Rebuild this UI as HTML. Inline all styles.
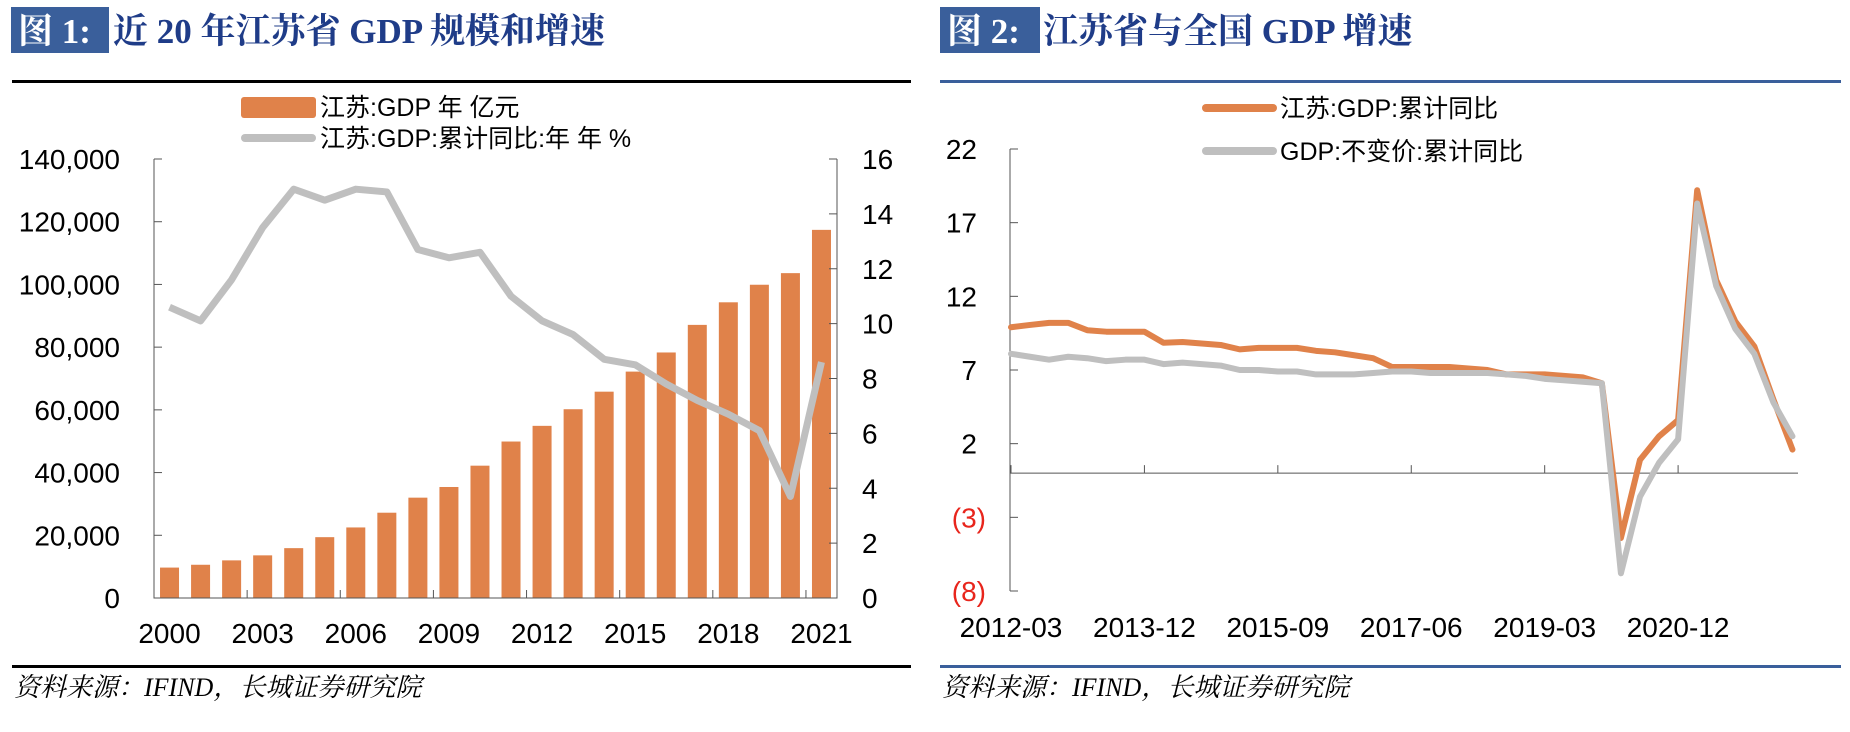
<!DOCTYPE html>
<html><head><meta charset="utf-8">
<style>
html,body{margin:0;padding:0;background:#fff;}
svg{display:block;}
.t{font-family:"Liberation Serif","Noto Serif CJK SC",serif;font-weight:bold;}
.s{font-family:"Liberation Sans","Noto Sans CJK SC",sans-serif;}
.f{font-family:"Liberation Serif","Noto Serif CJK SC",serif;font-style:italic;}
</style></head>
<body>
<svg id="svg" width="1850" height="732" viewBox="0 0 1850 732" xmlns="http://www.w3.org/2000/svg">
  <g>
    <rect x="11" y="7" width="98" height="46" fill="#3a5f9b"/>
    <text x="18" y="43" class="t" font-size="35" fill="#fff">图 1:</text>
    <text x="113" y="43" class="t" font-size="35" fill="#1f3c88">近 20 年江苏省 GDP 规模和增速</text>
    <rect x="12" y="80" width="899" height="3" fill="#000"/>
  </g>
  <g>
    <rect x="940" y="7" width="100" height="46" fill="#3a5f9b"/>
    <text x="947" y="43" class="t" font-size="35" fill="#fff">图 2:</text>
    <text x="1043" y="43" class="t" font-size="35" fill="#1f3c88">江苏省与全国 GDP 增速</text>
    <rect x="940" y="80" width="901" height="3" fill="#3a5f9b"/>
  </g>
  <g>
    <rect x="241" y="97" width="75" height="21" rx="3" fill="#e0824a"/>
    <text x="320" y="116" class="s" font-size="25" fill="#000">江苏:GDP 年 亿元</text>
    <line x1="245" y1="138" x2="312" y2="138" stroke="#bfbfbf" stroke-width="8" stroke-linecap="round"/>
    <text x="320" y="147" class="s" font-size="25" fill="#000">江苏:GDP:累计同比:年 年 %</text>
  </g>
  <g>
    <line x1="1206" y1="108" x2="1273" y2="108" stroke="#e0824a" stroke-width="8" stroke-linecap="round"/>
    <text x="1280" y="117" class="s" font-size="25" fill="#000">江苏:GDP:累计同比</text>
    <line x1="1206" y1="151" x2="1273" y2="151" stroke="#bfbfbf" stroke-width="8" stroke-linecap="round"/>
    <text x="1280" y="160" class="s" font-size="25" fill="#000">GDP:不变价:累计同比</text>
  </g>
  <g id="c1"></g>
  <g id="c2"></g>
  <g>
    <rect x="12" y="665" width="899" height="3" fill="#000"/>
    <text x="14" y="696" class="f" font-size="26" fill="#000">资料来源：IFIND，长城证券研究院</text>
    <rect x="940" y="665" width="901" height="3" fill="#3a5f9b"/>
    <text x="942" y="696" class="f" font-size="26" fill="#000">资料来源：IFIND，长城证券研究院</text>
  </g>
</svg>
<script>
var years = [2000,2001,2002,2003,2004,2005,2006,2007,2008,2009,2010,2011,2012,2013,2014,2015,2016,2017,2018,2019,2020,2021];
var gdpValues = [9700,10600,12000,13600,15900,19400,22500,27200,32000,35400,42200,49900,54900,60200,65800,72200,78300,87100,94300,99900,103600,117400];
var growthValues = [10.6,10.1,11.6,13.5,14.9,14.5,14.9,14.8,12.7,12.4,12.6,11.0,10.1,9.6,8.7,8.5,7.8,7.2,6.7,6.1,3.7,8.6];
var leftTicks = [0,20000,40000,60000,80000,100000,120000,140000];
var leftTickLabels = ["0","20,000","40,000","60,000","80,000","100,000","120,000","140,000"];
var rightTicks = [0,2,4,6,8,10,12,14,16];
var xLabelYears = [2000,2003,2006,2009,2012,2015,2018,2021];

var quarters = [];
(function(){for(var y=2012;y<=2022;y++){for(var q=1;q<=4;q++){if(y===2022&&q>2)break;quarters.push(y+"-"+("0"+q*3).slice(-2));}}})();
var jiangsuValues = [9.9,10.06,10.2,10.2,9.7,9.6,9.6,9.6,8.85,8.9,8.8,8.7,8.4,8.5,8.5,8.5,8.3,8.2,8.0,7.8,7.2,7.2,7.2,7.2,7.1,7.0,6.7,6.7,6.7,6.6,6.5,6.1,-4.4,0.9,2.5,3.6,19.2,13.1,10.3,8.6,5.0,1.6];
var nationalValues = [8.1,7.9,7.7,7.9,7.8,7.6,7.7,7.7,7.4,7.5,7.4,7.3,7.0,7.0,6.9,6.9,6.7,6.7,6.7,6.8,6.9,6.9,6.8,6.8,6.8,6.8,6.7,6.6,6.4,6.3,6.2,6.1,-6.8,-1.6,0.7,2.3,18.3,12.7,9.8,8.1,4.8,2.5];
var y2Ticks = [22,17,12,7,2,-3,-8];
var y2TickLabels = ["22","17","12","7","2","(3)","(8)"];
var x2LabelIdx = [0,7,14,21,28,35];

var NS="http://www.w3.org/2000/svg";
function mk(tag,attrs,parent,txt){var e=document.createElementNS(NS,tag);for(var k in attrs)e.setAttribute(k,attrs[k]);if(txt!==undefined)e.textContent=txt;parent.appendChild(e);return e;}

// Chart 1
(function(){
  var g=document.getElementById('c1');
  var L=154,R=837,T=159,B=598;
  var n=years.length, cw=(R-L)/n;
  function xc(i){return L+cw*(i+0.5);}
  function yl(v){return B-(v/140000)*(B-T);}
  function yr(v){return B-(v/16)*(B-T);}
  gdpValues.forEach(function(v,i){
    var r=mk('rect',{x:xc(i)-9.5,y:yl(v),width:19,height:B-yl(v),fill:'#e0824a'},g);
    
    
  });
  var ax=mk('path',{d:'M'+L+' '+T+' V'+B+' H'+R+' V'+T,fill:'none',stroke:'#555','stroke-width':1},g);
  
  
  leftTicks.forEach(function(v,i){
    mk('line',{x1:L,x2:L+8,y1:yl(v),y2:yl(v),stroke:'#555'},g);
    var t=mk('text',{x:120,y:yl(v)+10,'text-anchor':'end','font-size':28,'class':'s',fill:'#000'},g,leftTickLabels[i]);
    
    
  });
  rightTicks.forEach(function(v){
    mk('line',{x1:R-8,x2:R,y1:yr(v),y2:yr(v),stroke:'#555'},g);
    var t=mk('text',{x:862,y:yr(v)+10,'font-size':28,'class':'s',fill:'#000'},g,String(v));
    
    
  });
  for(var k=3;k<n;k+=3){var xx=L+cw*k;mk('line',{x1:xx,x2:xx,y1:B-8,y2:B,stroke:'#555'},g);}
  xLabelYears.forEach(function(y){
    var i=years.indexOf(y);
    var t=mk('text',{x:xc(i),y:643,'text-anchor':'middle','font-size':28,'class':'s',fill:'#000'},g,String(y));
    
    
  });
  var pts=growthValues.map(function(v,i){return xc(i)+','+yr(v);}).join(' ');
  var pl=mk('polyline',{points:pts,fill:'none',stroke:'#bfbfbf','stroke-width':7,'stroke-linejoin':'round'},g);
  
  
})();

// Chart 2
(function(){
  var g=document.getElementById('c2');
  var L=1010,R=1798,T=149,B=591;
  var step=19.06;
  function xq(i){return 1011+step*i;}
  function yv(v){return T+(22-v)/30*(B-T);}
  var ax=mk('line',{x1:L,x2:L,y1:T,y2:B,stroke:'#555'},g);
  
  
  var z=mk('line',{x1:L,x2:R,y1:yv(0),y2:yv(0),stroke:'#555'},g);
  
  
  y2Ticks.forEach(function(v,i){
    mk('line',{x1:L,x2:L+8,y1:yv(v),y2:yv(v),stroke:'#555'},g);
    var t=mk('text',{x:v<0?986:977,y:yv(v)+10,'text-anchor':'end','font-size':28,'class':'s',fill:v<0?'#e8251c':'#000'},g,y2TickLabels[i]);
    
    
  });
  x2LabelIdx.forEach(function(i){
    mk('line',{x1:xq(i),x2:xq(i),y1:yv(0)-8,y2:yv(0),stroke:'#555'},g);
    var t=mk('text',{x:xq(i),y:637,'text-anchor':'middle','font-size':28,'class':'s',fill:'#000'},g,quarters[i]);
    
    
  });
  var p1=mk('polyline',{points:jiangsuValues.map(function(v,i){return xq(i)+','+yv(v);}).join(' '),fill:'none',stroke:'#e0824a','stroke-width':6,'stroke-linejoin':'round','stroke-linecap':'round'},g);
  
  
  var p2=mk('polyline',{points:nationalValues.map(function(v,i){return xq(i)+','+yv(v);}).join(' '),fill:'none',stroke:'#bfbfbf','stroke-width':6,'stroke-linejoin':'round','stroke-linecap':'round'},g);
  
  
})();
</script>
</body></html>
